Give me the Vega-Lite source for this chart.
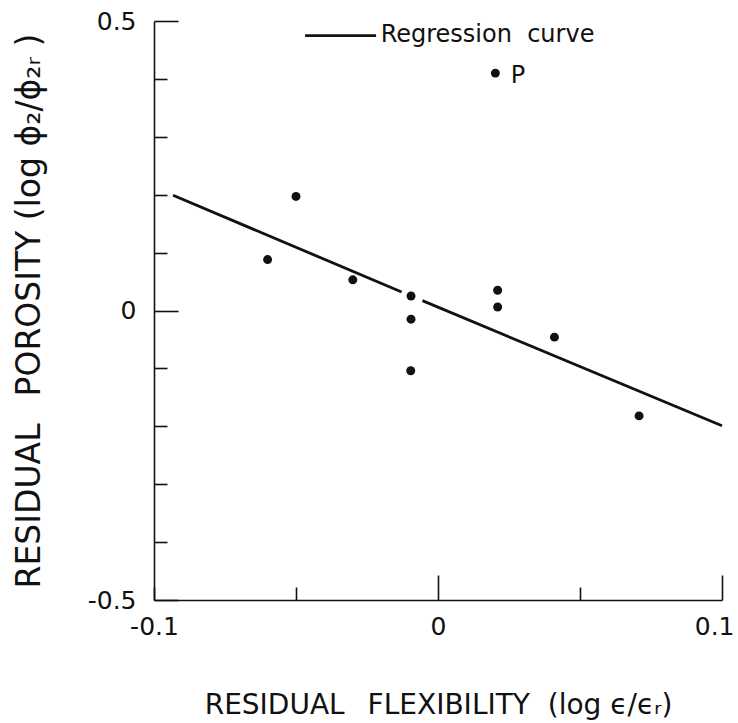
{
  "$schema": "https://vega.github.io/schema/vega-lite/v6.json",
  "width": 568,
  "height": 579,
  "autosize": {"type": "none"},
  "padding": {"left": 154, "top": 21, "right": 16, "bottom": 123},
  "background": "white",
  "config": {
    "view": {"stroke": null},
    "font": "DejaVu Sans",
    "axis": {
      "grid": false,
      "domainColor": "#111",
      "domainWidth": 1.6,
      "tickColor": "#111",
      "tickWidth": 1.6,
      "labelColor": "#111",
      "titleColor": "#111",
      "labelFont": "DejaVu Sans",
      "titleFont": "DejaVu Sans",
      "titleFontWeight": "normal"
    }
  },
  "datasets": {
    "points": [
      {"x": -0.060, "y": 0.088},
      {"x": -0.050, "y": 0.197},
      {"x": -0.030, "y": 0.053},
      {"x": -0.0095, "y": 0.025},
      {"x": -0.0095, "y": -0.015},
      {"x": -0.0096, "y": -0.104},
      {"x": 0.021, "y": 0.035},
      {"x": 0.021, "y": 0.006},
      {"x": 0.0202, "y": 0.410},
      {"x": 0.041, "y": -0.046},
      {"x": 0.0708, "y": -0.182}
    ],
    "regression": [
      {"segment": "a", "x": -0.0933, "y": 0.199},
      {"segment": "a", "x": -0.0128, "y": 0.032},
      {"segment": "b", "x": -0.0055, "y": 0.017},
      {"segment": "b", "x": 0.1, "y": -0.199}
    ],
    "legendLine": [
      {"x": -0.0468, "x2": -0.0218, "y": 0.4746}
    ],
    "labels": [
      {"x": -0.0202, "y": 0.4643, "label": "Regression\u00a0\u00a0curve"},
      {"x": 0.0256, "y": 0.393, "label": "P"}
    ]
  },
  "layer": [
    {
      "data": {"name": "points"},
      "mark": {"type": "circle", "size": 80, "color": "#111", "opacity": 1},
      "encoding": {
        "x": {
          "field": "x",
          "type": "quantitative",
          "scale": {"domain": [-0.1, 0.1], "nice": false, "zero": false},
          "axis": {
            "values": [-0.1, -0.05, 0, 0.05, 0.1],
            "labelExpr": "datum.value == 0 ? '0' : datum.value < -0.09 ? '-0.1' : datum.value > 0.09 ? '0.1' : ''",
            "tickSize": {"condition": {"test": "datum.value == 0 || datum.value > 0.09", "value": -25}, "value": -13},
            "labelFontSize": 25,
            "labelPadding": {"condition": {"test": "datum.value == 0 || datum.value > 0.09", "value": 39}, "value": 27},
            "labelAlign": {"condition": {"test": "datum.value > 0.09", "value": "right"}, "value": "center"},
            "labelOffset": {"condition": {"test": "datum.value > 0.09", "value": 12}, "value": 0},
            "labelFlush": false,
            "labelOverlap": false,
            "title": "RESIDUAL\u2002\u00a0FLEXIBILITY\u00a0\u00a0(log ϵ/ϵᵣ)",
            "titleFontSize": 28,
            "titlePadding": 52
          }
        },
        "y": {
          "field": "y",
          "type": "quantitative",
          "scale": {"domain": [-0.5, 0.5], "nice": false, "zero": false},
          "axis": {
            "values": [-0.5, -0.4, -0.3, -0.2, -0.1, 0, 0.1, 0.2, 0.3, 0.4, 0.5],
            "labelExpr": "datum.value > 0.45 ? '0.5' : datum.value < -0.45 ? '-0.5' : abs(datum.value) < 0.01 ? '0' : ''",
            "tickSize": {"condition": {"test": "abs(datum.value) > 0.45 || abs(datum.value) < 0.01", "value": -24}, "value": -13},
            "labelFontSize": 25,
            "labelPadding": 42,
            "labelFlush": false,
            "labelOverlap": false,
            "title": "RESIDUAL\u2002\u00a0POROSITY\u00a0(log ϕ₂/ϕ₂ᵣ )",
            "titleFontSize": 33,
            "titlePadding": 41
          }
        }
      }
    },
    {
      "data": {"name": "regression"},
      "mark": {"type": "line", "color": "#111", "strokeWidth": 2.8},
      "encoding": {
        "x": {"field": "x", "type": "quantitative"},
        "y": {"field": "y", "type": "quantitative"},
        "detail": {"field": "segment", "type": "nominal"}
      }
    },
    {
      "data": {"name": "legendLine"},
      "mark": {"type": "rule", "color": "#111", "strokeWidth": 2.8},
      "encoding": {
        "x": {"field": "x", "type": "quantitative"},
        "x2": {"field": "x2"},
        "y": {"field": "y", "type": "quantitative"}
      }
    },
    {
      "data": {"name": "labels"},
      "mark": {"type": "text", "align": "left", "baseline": "alphabetic", "fontSize": 24, "font": "DejaVu Sans", "color": "#111"},
      "encoding": {
        "x": {"field": "x", "type": "quantitative"},
        "y": {"field": "y", "type": "quantitative"},
        "text": {"field": "label", "type": "nominal"}
      }
    }
  ]
}
